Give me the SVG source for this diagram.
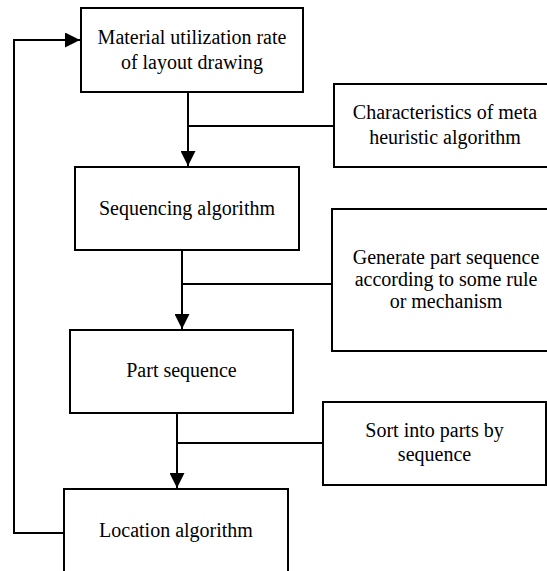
<svg xmlns="http://www.w3.org/2000/svg" width="547" height="571" viewBox="0 0 547 571">
<style>
.box{fill:#fff;stroke:#000;stroke-width:2}
.t{font-family:"Liberation Serif","Times New Roman",serif;font-size:20px;fill:#000;text-anchor:middle}
.ln{fill:none;stroke:#000;stroke-width:2}
</style>
<defs>
<marker id="ah" markerWidth="15" markerHeight="15" viewBox="0 0 15 15" refX="15" refY="7.5" orient="auto" markerUnits="userSpaceOnUse">
<path d="M0,0 L15,7.5 L0,15 Z" fill="#000"/>
</marker>
</defs>
<rect width="547" height="571" fill="#fff"/>
<g id="connectors">
<path class="ln" d="M188,92 V166" marker-end="url(#ah)"/>
<path class="ln" d="M188,126 H334"/>
<path class="ln" d="M182,250 V329" marker-end="url(#ah)"/>
<path class="ln" d="M182,284 H332"/>
<path class="ln" d="M177,413 V488" marker-end="url(#ah)"/>
<path class="ln" d="M177,443 H323"/>
<path class="ln" d="M64,533 H14 V40 H80" marker-end="url(#ah)"/>
</g>
<g id="n1">
<rect class="box" x="81" y="8" width="222" height="84"/>
<text class="t" x="192" y="44">Material utilization rate</text>
<text class="t" x="192" y="69">of layout drawing</text>
</g>
<g id="n2">
<rect class="box" x="334" y="84" width="220" height="83"/>
<text class="t" x="445" y="119">Characteristics of meta</text>
<text class="t" x="445" y="144">heuristic algorithm</text>
</g>
<g id="n3">
<rect class="box" x="75" y="167" width="224" height="83"/>
<text class="t" x="187" y="215">Sequencing algorithm</text>
</g>
<g id="n4">
<rect class="box" x="332" y="209" width="222" height="142"/>
<text class="t" x="446" y="264">Generate part sequence</text>
<text class="t" x="446" y="286">according to some rule</text>
<text class="t" x="446" y="308">or mechanism</text>
</g>
<g id="n5">
<rect class="box" x="70" y="330" width="223" height="83"/>
<text class="t" x="181.5" y="377">Part sequence</text>
</g>
<g id="n6">
<rect class="box" x="323" y="402" width="223" height="83"/>
<text class="t" x="434.5" y="437">Sort into parts by</text>
<text class="t" x="434.5" y="461">sequence</text>
</g>
<g id="n7">
<rect class="box" x="64" y="489" width="224" height="100"/>
<text class="t" x="176" y="537">Location algorithm</text>
</g>
</svg>
